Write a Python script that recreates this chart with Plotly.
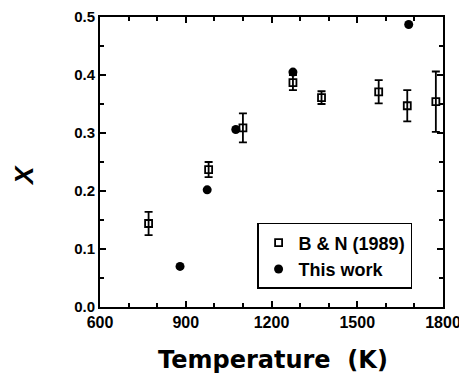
import plotly.graph_objects as go

bn_T = [770, 980, 1100, 1275, 1375, 1575, 1675, 1775]
bn_X = [0.144, 0.237, 0.309, 0.387, 0.361, 0.371, 0.347, 0.354]
bn_err = [0.020, 0.013, 0.025, 0.013, 0.011, 0.020, 0.027, 0.052]

tw_T = [880, 975, 1075, 1275, 1680]
tw_X = [0.070, 0.202, 0.306, 0.405, 0.487]

x_ticks = [600, 900, 1200, 1500, 1800]
y_ticks = [0.0, 0.1, 0.2, 0.3, 0.4, 0.5]

FONT = "Liberation Sans, Arial, sans-serif"
TITLE_FONT = "DejaVu Sans, Liberation Sans, sans-serif"

fig = go.Figure()
fig.add_trace(go.Scatter(
    x=bn_T, y=bn_X, mode="markers", name="<b>B &amp; N (1989)</b>",
    marker=dict(symbol="square-open", size=7, color="black", line=dict(width=1.8)),
    error_y=dict(type="data", array=bn_err, visible=True, color="black", thickness=1.8, width=4),
))
fig.add_trace(go.Scatter(
    x=tw_T, y=tw_X, mode="markers", name="<b>This work</b>",
    marker=dict(symbol="circle", size=9, color="black"),
))

axis_common = dict(
    showline=True, linecolor="black", linewidth=2, mirror="ticks",
    ticks="inside", tickcolor="black", tickwidth=2, ticklen=6,
    showgrid=False, zeroline=False, automargin=False,
    ticklabeloverflow="allow",
)

fig.update_xaxes(
    range=[600, 1800], tickvals=x_ticks, ticktext=[f"<b>{v}</b>" for v in x_ticks],
    tickfont=dict(family=FONT, size=16, color="black"),
    minor=dict(ticks="inside", dtick=100, ticklen=4, tickwidth=1.5, tickcolor="black"),
    **axis_common,
)
fig.update_yaxes(
    range=[0, 0.5], tickvals=y_ticks, ticktext=[f"<b>{v:.1f}</b>" for v in y_ticks],
    tickfont=dict(family=FONT, size=15, color="black"),
    minor=dict(ticks="inside", dtick=0.05, ticklen=4, tickwidth=1.5, tickcolor="black"),
    **axis_common,
)

fig.add_annotation(
    text="<b>Temperature  (K)</b>", xref="paper", yref="paper", x=0.504, y=-0.182,
    xanchor="center", yanchor="middle", showarrow=False,
    font=dict(family=TITLE_FONT, size=24, color="black"),
)
fig.add_annotation(
    text="<b><i>X</i></b>", xref="paper", yref="paper", x=-0.222, y=0.455,
    xanchor="center", yanchor="middle", showarrow=False, textangle=-90,
    font=dict(family=FONT, size=26, color="black"),
)

# page body has an 8px margin, so the figure is shrunk and shifted accordingly
fig.update_layout(
    width=459, height=370,
    margin=dict(l=92, r=24, t=9, b=71),
    paper_bgcolor="white", plot_bgcolor="white",
    showlegend=True,
    legend=dict(
        x=0.458, y=0.29, xanchor="left", yanchor="top",
        bordercolor="black", borderwidth=1.5, bgcolor="white",
        font=dict(family=FONT, size=18, color="black"),
        tracegroupgap=0,
    ),
)

fig.write_html("out.html")
